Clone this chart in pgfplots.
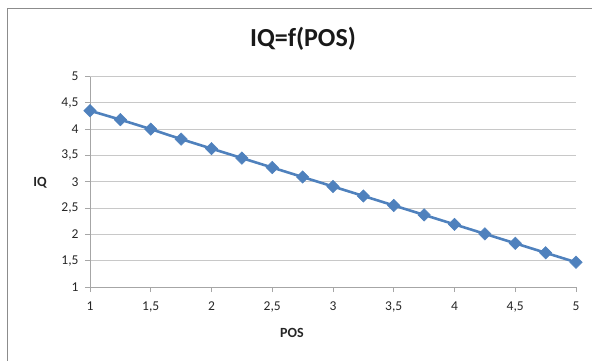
\documentclass[border=0pt]{standalone}
\usepackage{pgfplots}
\pgfplotsset{compat=1.18}
\usepackage{fontspec}
\setmainfont{Carlito}
\definecolor{exblue}{HTML}{4F81BD}
\definecolor{gridgray}{HTML}{C8C8C8}
\definecolor{axgray}{HTML}{A6A6A6}
\definecolor{framegray}{HTML}{8C8C8C}
\begin{document}
\begin{tikzpicture}
\begin{pgfinterruptboundingbox}
\begin{axis}[
  scale only axis, width=486pt, height=210.5pt,
  xmin=1, xmax=5, ymin=1, ymax=5,
  xtick={1,1.5,...,5}, ytick={1,1.5,...,5},
  axis x line*=bottom, axis y line*=left,
  axis line style={-, color=axgray, line width=0.8pt},
  ymajorgrids, grid style={color=gridgray, line width=0.9pt},
  tick align=outside, major tick length=5pt,
  tick style={color=axgray, line width=0.8pt},
  /pgf/number format/use comma,
  /pgf/number format/assume math mode=true,
  tick label style={font=\fontsize{13.5}{15}\selectfont, color=black!85},
  xticklabel style={yshift=-6pt},
  yticklabel style={xshift=-3pt},
  clip=false,
]
\coordinate (o) at (rel axis cs:0,0);
\addplot[color=exblue, line width=2.6pt, mark=square*, mark size=4.4pt,
  mark options={rotate=45, line width=0.5pt, fill=exblue}]
  coordinates {
  (1,4.35) (1.25,4.18) (1.5,4.00) (1.75,3.81) (2,3.63) (2.25,3.45)
  (2.5,3.27) (2.75,3.09) (3,2.91) (3.25,2.73) (3.5,2.55) (3.75,2.37)
  (4,2.19) (4.25,2.01) (4.5,1.83) (4.75,1.65) (5,1.47)
  };
\end{axis}
\end{pgfinterruptboundingbox}
\useasboundingbox ([shift={(-90pt,-73pt)}]o) rectangle ([shift={(502pt,287pt)}]o);
\draw[color=framegray, line width=1pt] ([shift={(-82.5pt,-80pt)}]o) -- ([shift={(-82.5pt,279pt)}]o) -- ([shift={(510pt,279pt)}]o);
\node[font=\bfseries\fontsize{26}{30}\selectfont, color=black!90] at ([shift={(213pt,248pt)}]o) {IQ=f(POS)};
\node[font=\bfseries\fontsize{14}{16}\selectfont, color=black!85] at ([shift={(-50pt,104pt)}]o) {IQ};
\node[font=\bfseries\fontsize{14}{16}\selectfont, color=black!85] at ([shift={(202pt,-46pt)}]o) {POS};
\end{tikzpicture}
\end{document}
